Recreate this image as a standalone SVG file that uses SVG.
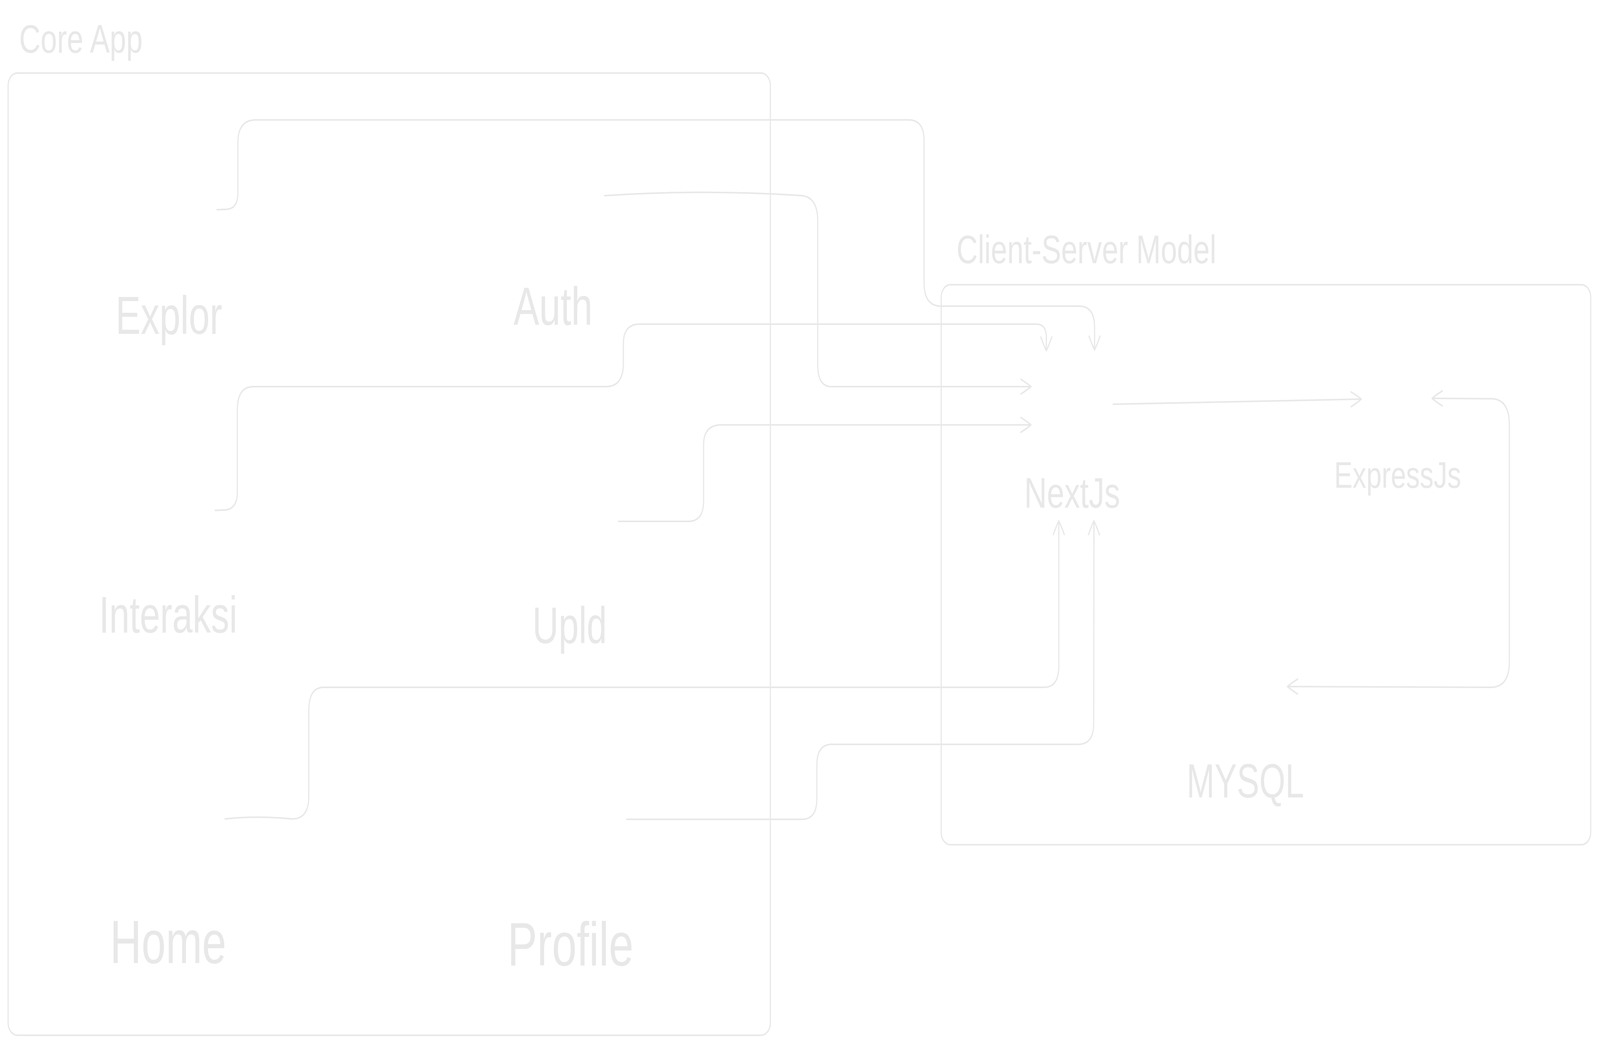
<svg xmlns="http://www.w3.org/2000/svg" width="5508" height="2681" viewBox="0 0 5508 2681" preserveAspectRatio="none" style="width:100vw;height:100vh;display:block">
  <defs>
    <style>
      .bg { fill: #ffffff; }
      .frame { fill: none; stroke: #e8e8e8; stroke-width: 4; }
      .conn { fill: none; stroke: #e8e8e8; stroke-width: 4; stroke-linecap: round; stroke-linejoin: round; }
      .lbl { fill: #e8e8e8; font-family: "Liberation Sans", Arial, Helvetica, sans-serif; }
      .grp { font-size: 102px; }
    </style>
    <marker id="arr" viewBox="-50 -50 100 100" markerWidth="100" markerHeight="100" markerUnits="userSpaceOnUse" refX="0" refY="0" orient="auto-start-reverse" overflow="visible">
      <path d="M-35,-19 Q-12,-8 0,0 Q-12,8 -35,19" fill="none" stroke="#e8e8e8" stroke-width="4" stroke-linecap="round" stroke-linejoin="round"/>
    </marker>
  </defs>
  <rect class="bg" x="0" y="0" width="5508" height="2681"/>

  <g id="core-app">
    <rect class="frame" x="28" y="187" width="2624" height="2464" rx="32" ry="32"/>
    <text class="lbl grp" x="66" y="135" textLength="425" lengthAdjust="spacingAndGlyphs">Core App</text>
  </g>

  <g id="client-server-model">
    <rect class="frame" x="3240" y="729" width="2236" height="1434" rx="32" ry="32"/>
    <text class="lbl grp" x="3293" y="674" textLength="894" lengthAdjust="spacingAndGlyphs">Client-Server Model</text>
  </g>

  <g id="connectors">
    <path class="conn" marker-end="url(#arr)" d="M747,537 L777,536 Q819,536 819,494 L819,365 Q819,307 881,307 L3128,307 Q3181,307 3181,360 L3181,724 Q3181,784 3240,784 L3715,784 Q3768,784 3768,837 L3768,896"/>
    <path class="conn" marker-end="url(#arr)" d="M2081,501 Q2420,484 2762,501 Q2815,506 2815,566 L2815,933 Q2815,990 2861,990 L3549,990"/>
    <path class="conn" marker-end="url(#arr)" d="M741,1307 L770,1306 Q817,1306 817,1260 L817,1050 Q817,990 872,990 L2086,990 Q2146,990 2146,930 L2146,880 Q2146,830 2202,830 L3568,830 Q3602,830 3602,864 L3602,898"/>
    <path class="conn" marker-end="url(#arr)" d="M2129,1335 L2370,1335 Q2422,1335 2422,1283 L2422,1140 Q2422,1088 2482,1088 L3549,1088"/>
    <path class="conn" marker-end="url(#arr)" d="M775,2097 Q880,2088 1006,2097 Q1063,2097 1063,2040 L1063,1820 Q1063,1760 1114,1760 L3594,1760 Q3645,1760 3645,1705 L3645,1334"/>
    <path class="conn" marker-end="url(#arr)" d="M2157,2098 L2761,2098 Q2812,2098 2812,2045 L2812,1960 Q2812,1906 2863,1906 L3712,1906 Q3765,1906 3765,1853 L3766,1334"/>
    <path class="conn" marker-end="url(#arr)" d="M3832,1035 L4686,1022"/>
    <path class="conn" marker-start="url(#arr)" marker-end="url(#arr)" d="M4930,1020 L5132,1021 Q5196,1021 5196,1088 L5196,1694 Q5196,1760 5132,1760 L4432,1758"/>
  </g>

  <g id="explor"><text class="lbl" x="398" y="855" font-size="138" textLength="367" lengthAdjust="spacingAndGlyphs">Explor</text></g>
  <g id="auth"><text class="lbl" x="1768" y="832" font-size="138" textLength="272" lengthAdjust="spacingAndGlyphs">Auth</text></g>
  <g id="interaksi"><text class="lbl" x="341" y="1620" font-size="132" textLength="476" lengthAdjust="spacingAndGlyphs">Interaksi</text></g>
  <g id="upld"><text class="lbl" x="1833" y="1647" font-size="132" textLength="256" lengthAdjust="spacingAndGlyphs">Upld</text></g>
  <g id="home"><text class="lbl" x="379" y="2466" font-size="155" textLength="400" lengthAdjust="spacingAndGlyphs">Home</text></g>
  <g id="profile"><text class="lbl" x="1747" y="2472" font-size="158" textLength="434" lengthAdjust="spacingAndGlyphs">Profile</text></g>
  <g id="nextjs"><text class="lbl" x="3526" y="1300" font-size="110" textLength="330" lengthAdjust="spacingAndGlyphs">NextJs</text></g>
  <g id="expressjs"><text class="lbl" x="4593" y="1249" font-size="95" textLength="437" lengthAdjust="spacingAndGlyphs">ExpressJs</text></g>
  <g id="mysql"><text class="lbl" x="4085" y="2042" font-size="122" textLength="404" lengthAdjust="spacingAndGlyphs">MYSQL</text></g>
</svg>
